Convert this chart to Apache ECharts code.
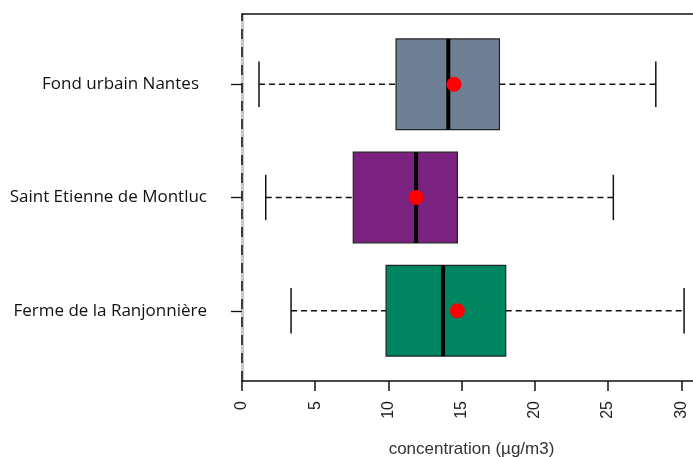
<!DOCTYPE html>
<html>
<head>
<meta charset="utf-8">
<script src="https://cdn.jsdelivr.net/npm/echarts@6/dist/echarts.min.js"></script>
<style>
  html, body { margin: 0; padding: 0; background: #fff; }
  #chart { width: 693px; height: 457px; }
</style>
</head>
<body>
<div id="chart"></div>
<script>
// Sites, bottom to top on the vertical scale (positions 1, 2, 3)
const sites = ['Ferme de la Ranjonnière', 'Saint Etienne de Montluc', 'Fond urbain Nantes'];
const sitePositions = [1, 2, 3];
// Box statistics per site (µg/m3)
const whiskerLow = [3.35, 1.62, 1.16];
const quartile1 = [9.84, 7.60, 10.52];
const medians = [13.73, 11.89, 14.09];
const quartile3 = [18.01, 14.71, 17.58];
const whiskerHigh = [30.19, 25.36, 28.26];
const means = [14.71, 11.89, 14.48];
const boxColors = ['#008561', '#7b2280', '#6f7f94'];
// Concentration axis ticks
const xTicks = [0, 5, 10, 15, 20, 25, 30];

const boxData = sitePositions.map((p, i) => [p, whiskerLow[i], quartile1[i], medians[i], quartile3[i], whiskerHigh[i]]);
const meanData = sitePositions.map((p, i) => [means[i], p]);

function renderBox(params, api) {
  const pos = api.value(0);
  const lo = api.value(1), q1 = api.value(2), md = api.value(3), q3 = api.value(4), hi = api.value(5);
  const half = api.size([0, 0.4])[1];
  const capHalf = half / 2;
  const pt = (x) => api.coord([x, pos]);
  const pLo = pt(lo), pQ1 = pt(q1), pMd = pt(md), pQ3 = pt(q3), pHi = pt(hi);
  const cy = pLo[1];
  const dash = { stroke: '#111', lineWidth: 1.3, lineDash: [6, 4] };
  const solid = { stroke: '#111', lineWidth: 1.5 };
  return {
    type: 'group',
    children: [
      { type: 'line', shape: { x1: pLo[0], y1: cy, x2: pQ1[0], y2: cy }, style: dash },
      { type: 'line', shape: { x1: pQ3[0], y1: cy, x2: pHi[0], y2: cy }, style: dash },
      { type: 'line', shape: { x1: pLo[0], y1: cy - capHalf, x2: pLo[0], y2: cy + capHalf }, style: solid },
      { type: 'line', shape: { x1: pHi[0], y1: cy - capHalf, x2: pHi[0], y2: cy + capHalf }, style: solid },
      { type: 'rect', shape: { x: pQ1[0], y: cy - half, width: pQ3[0] - pQ1[0], height: 2 * half },
        style: { fill: boxColors[params.dataIndex], stroke: '#222', lineWidth: 1.2 } },
      { type: 'line', shape: { x1: pMd[0], y1: cy - half, x2: pMd[0], y2: cy + half },
        style: { stroke: '#000', lineWidth: 4 } }
    ]
  };
}

const chart = echarts.init(document.getElementById('chart'), null, { renderer: 'canvas' });
chart.setOption({
  animation: false,
  backgroundColor: '#ffffff',
  grid: { left: 242, right: 0, top: 14, bottom: 76, containLabel: false, outerBoundsMode: 'none' },
  xAxis: [
    {
      type: 'value', min: 0, max: 30.8, position: 'bottom',
      splitLine: { show: false },
      axisLine: { show: true, lineStyle: { color: '#111', width: 1.5 } },
      axisTick: { show: true, customValues: xTicks, length: 10, lineStyle: { color: '#111', width: 1.5 } },
      axisLabel: {
        customValues: xTicks, rotate: 90, margin: 20,
        fontFamily: 'Liberation Sans', fontSize: 16, color: '#222'
      },
      name: 'concentration (µg/m3)', nameLocation: 'middle', nameGap: 60,
      nameTextStyle: { fontFamily: 'Liberation Sans', fontSize: 17, color: '#333', padding: [0, 0, 0, 8] }
    },
    {
      type: 'value', min: 0, max: 30.8, position: 'top',
      splitLine: { show: false },
      axisLine: { show: true, lineStyle: { color: '#111', width: 1.5 } },
      axisTick: { show: false }, axisLabel: { show: false }
    }
  ],
  yAxis: {
    type: 'value', min: 0.38, max: 3.62,
    splitLine: { show: false },
    axisLine: { show: true, lineStyle: { color: '#c8c8c8', width: 3 } },
    axisTick: { show: true, customValues: sitePositions, length: 11, lineStyle: { color: '#111', width: 1.3 } },
    axisLabel: {
      customValues: sitePositions, margin: 35,
      fontFamily: 'Open Sans', fontSize: 17, color: '#111',
      formatter: (v) => {
        const name = sites[Math.round(v) - 1];
        return Math.round(v) === 3 ? '{shift|' + name + '}' : name;
      },
      rich: { shift: { fontFamily: 'Open Sans', fontSize: 17, color: '#111', padding: [0, 8, 0, 0] } }
    }
  },
  series: [
    {
      type: 'custom',
      renderItem: renderBox,
      encode: { x: [1, 2, 3, 4, 5], y: 0 },
      data: boxData,
      silent: true,
      markLine: {
        silent: true, symbol: 'none', label: { show: false },
        lineStyle: { color: '#111', type: [10, 8], width: 1.5 },
        data: [{ xAxis: 0 }]
      }
    },
    {
      type: 'scatter',
      data: meanData,
      symbol: 'circle', symbolSize: 15,
      itemStyle: { color: '#ff0000', opacity: 1 },
      silent: true
    }
  ]
});
</script>
</body>
</html>
